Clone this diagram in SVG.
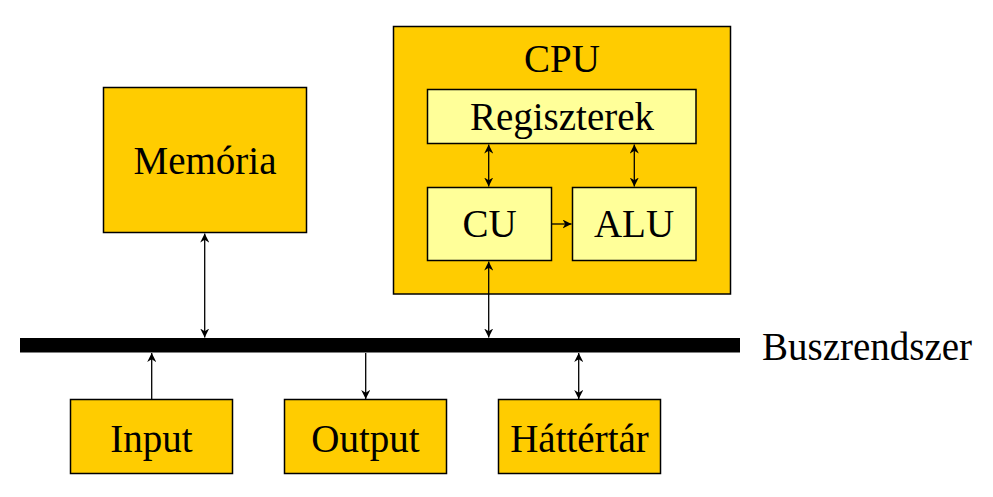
<svg xmlns="http://www.w3.org/2000/svg" width="993" height="497" viewBox="0 0 993 497">
<style>
.box{fill:#FFCC00;stroke:#000;stroke-width:1.5}
.inner{fill:#FFFF99;stroke:#000;stroke-width:1.5}
.t{font-family:"Liberation Serif","Times New Roman",serif;font-size:39px;fill:#000;text-anchor:middle}
.c{stroke:#000;stroke-width:1.3;fill:none}
</style>
<defs>
<marker id="ah" viewBox="0 0 10 10" refX="10" refY="5" markerWidth="9" markerHeight="9" markerUnits="userSpaceOnUse" orient="auto-start-reverse">
<path d="M0,0 L10,5 L0,10 L3,5 z" fill="#000"/>
</marker>
</defs>
<rect x="20" y="338" width="720" height="14.5" fill="#000"/>
<g id="cpu">
<rect class="box" x="393.5" y="26.5" width="337" height="267.5"/>
<text class="t" x="562" y="72">CPU</text>
</g>
<g id="regiszterek">
<rect class="inner" x="427.5" y="89.5" width="268.5" height="54"/>
<text class="t" x="562" y="130">Regiszterek</text>
</g>
<g id="cu">
<rect class="inner" x="427.5" y="187.5" width="124" height="73"/>
<text class="t" x="489.5" y="237">CU</text>
</g>
<g id="alu">
<rect class="inner" x="572.5" y="187.5" width="123.5" height="73"/>
<text class="t" x="634" y="237">ALU</text>
</g>
<g id="memoria">
<rect class="box" x="103.5" y="87.5" width="203" height="145"/>
<text class="t" x="205" y="174">Memória</text>
</g>
<g id="input">
<rect class="box" x="70.5" y="399.5" width="162" height="74"/>
<text class="t" x="151.5" y="452">Input</text>
</g>
<g id="output">
<rect class="box" x="284.5" y="399.5" width="162" height="74"/>
<text class="t" x="365.5" y="452">Output</text>
</g>
<g id="hattertar">
<rect class="box" x="498.5" y="399.5" width="162" height="74"/>
<text class="t" x="579.5" y="452">Háttértár</text>
</g>
<g id="busz">
<text class="t" x="867" y="360">Buszrendszer</text>
</g>
<g id="connectors">
<line class="c" x1="488.7" y1="144.5" x2="488.7" y2="186.5" marker-start="url(#ah)" marker-end="url(#ah)"/>
<line class="c" x1="634.3" y1="144.5" x2="634.3" y2="186.5" marker-start="url(#ah)" marker-end="url(#ah)"/>
<line class="c" x1="551.5" y1="224" x2="571.5" y2="224" marker-end="url(#ah)"/>
<line class="c" x1="488.7" y1="337.5" x2="488.7" y2="261.5" marker-start="url(#ah)" marker-end="url(#ah)"/>
<line class="c" x1="204.7" y1="233.5" x2="204.7" y2="337.5" marker-start="url(#ah)" marker-end="url(#ah)"/>
<line class="c" x1="151.7" y1="399" x2="151.7" y2="353" marker-end="url(#ah)"/>
<line class="c" x1="365.7" y1="353" x2="365.7" y2="399" marker-end="url(#ah)"/>
<line class="c" x1="578.7" y1="353" x2="578.7" y2="399" marker-start="url(#ah)" marker-end="url(#ah)"/>
</g>
</svg>
